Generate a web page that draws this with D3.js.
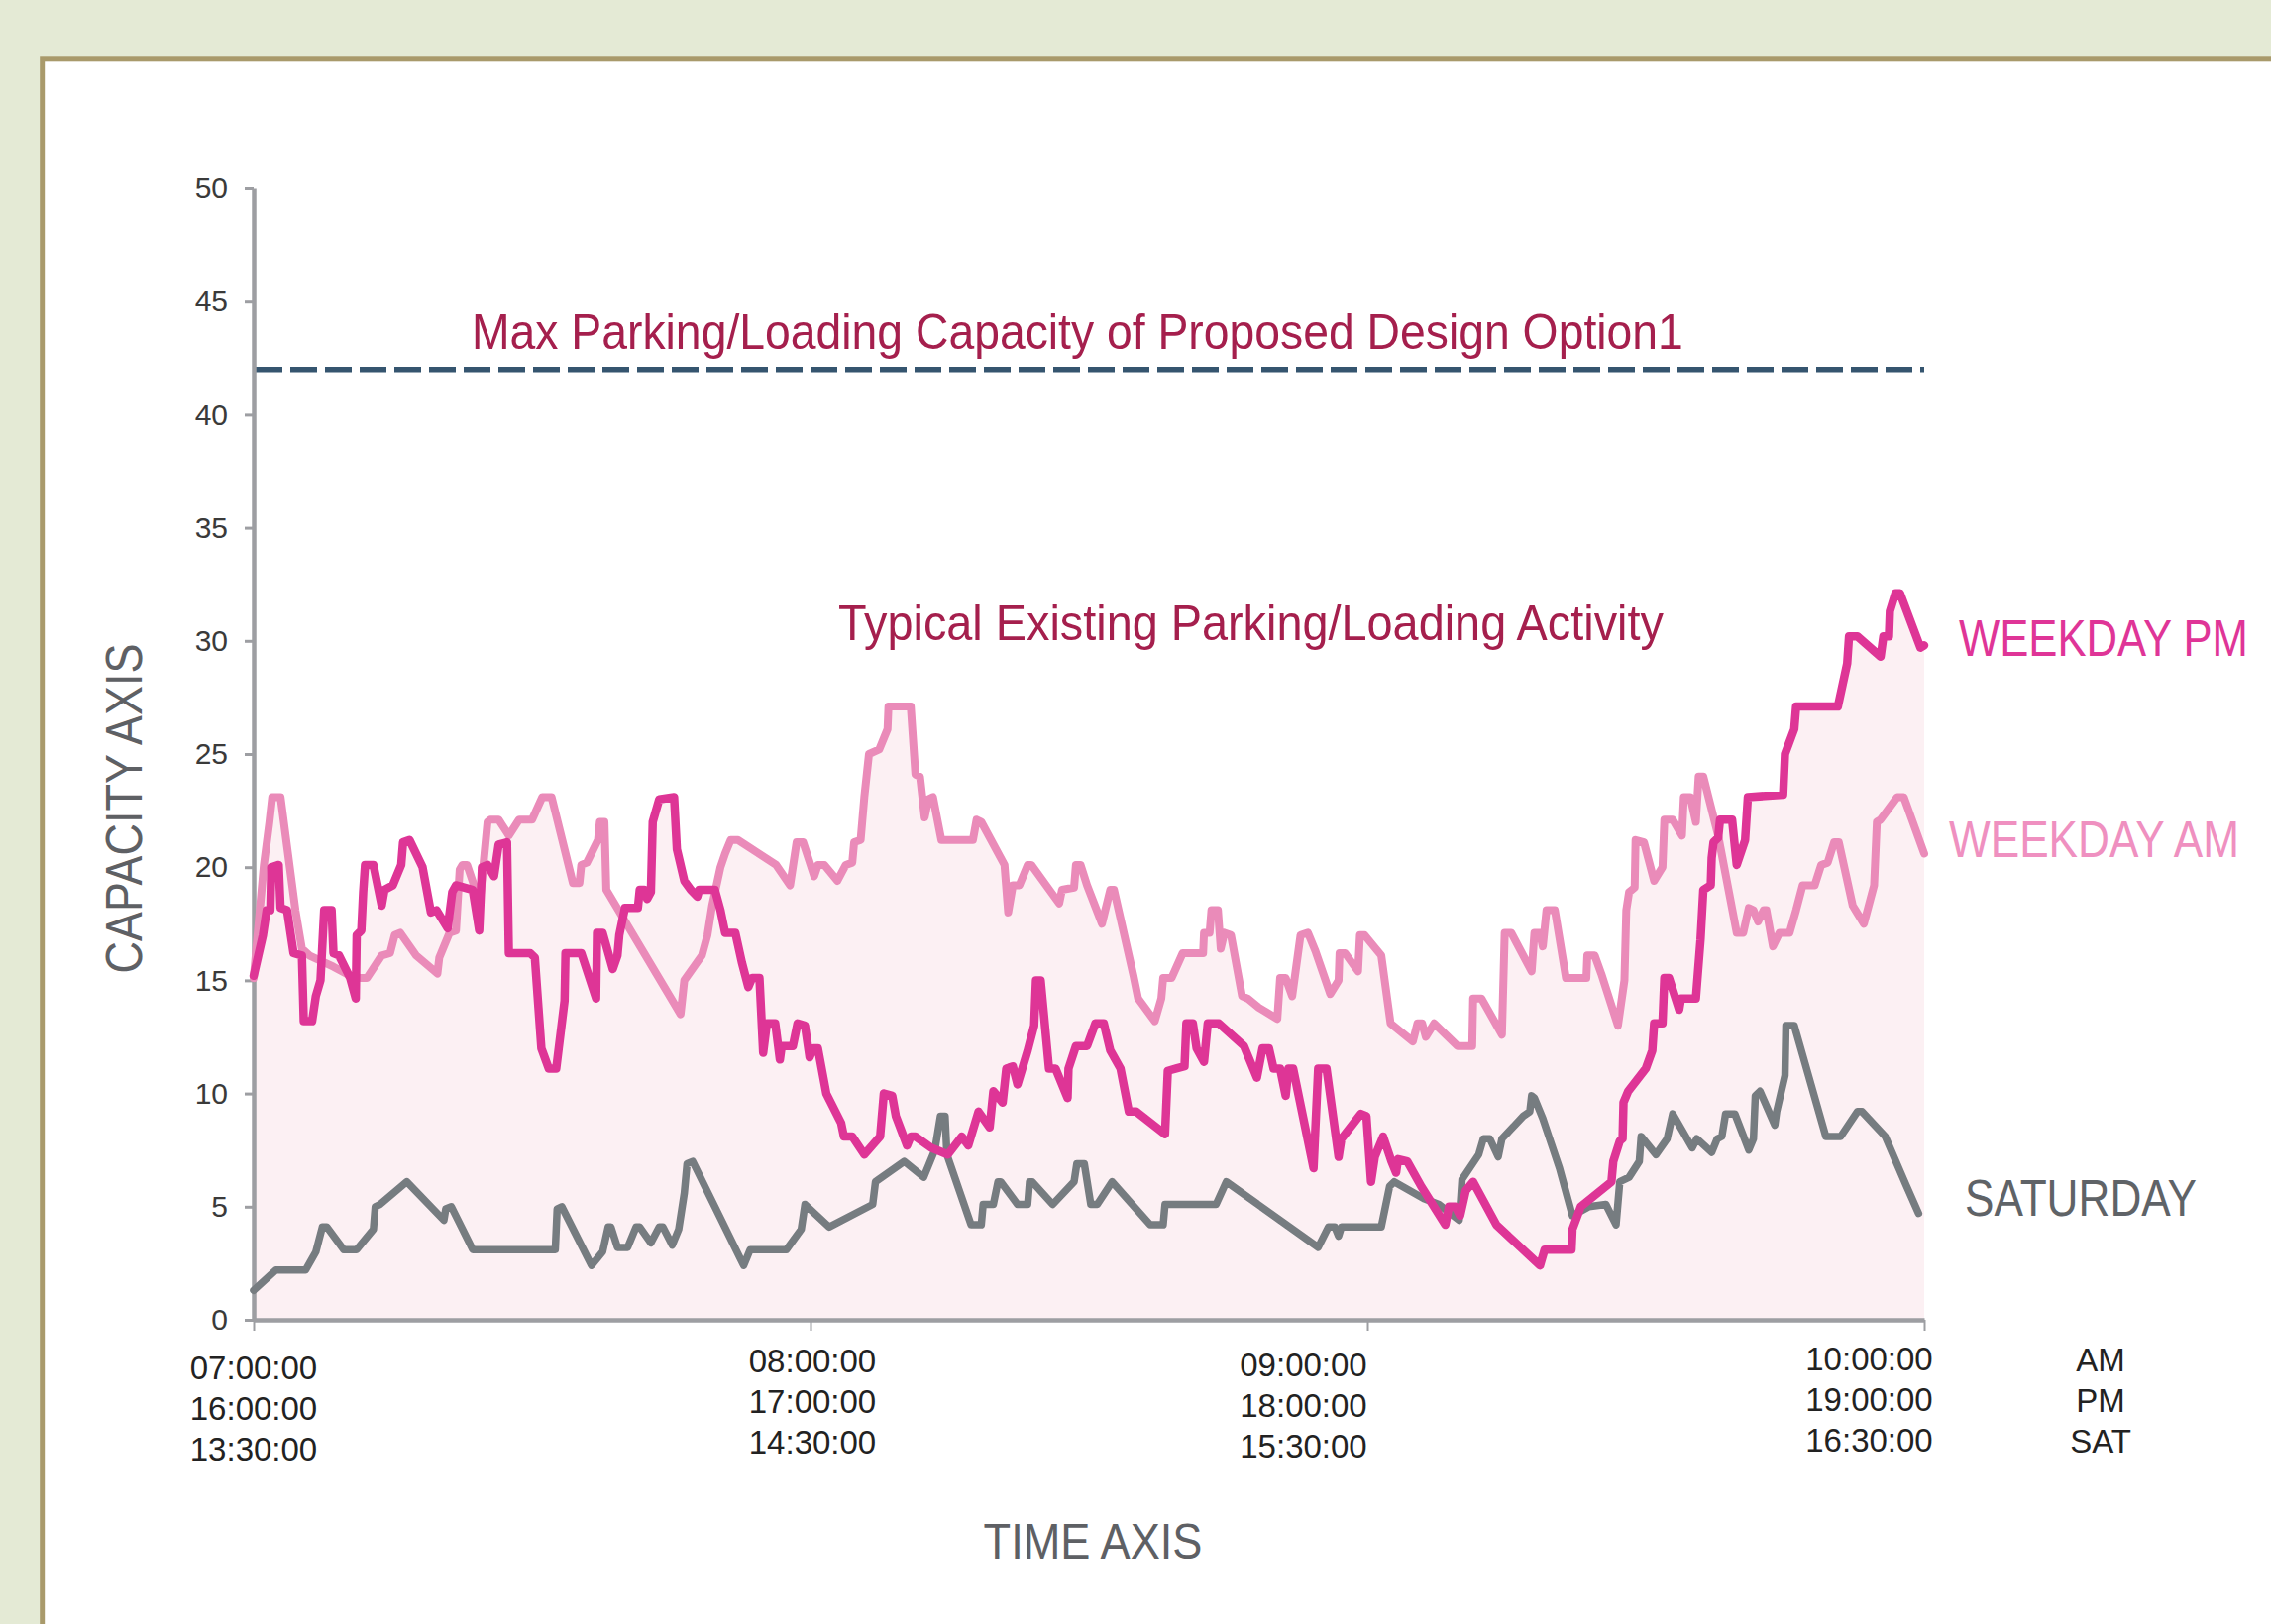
<!DOCTYPE html>
<html>
<head>
<meta charset="utf-8">
<script src="https://cdn.jsdelivr.net/npm/d3@7"></script>
<style>
  html, body { margin: 0; padding: 0; background: #e4ead5; }
  svg { display: block; }
</style>
</head>
<body>
<div id="chart"></div>
<script>
// [minutes after window start, vehicles]
const weekdayPm = [
  [0,15.2],[1.0,17.0],[1.4,18.1],[1.8,18.1],[1.9,20.0],[2.7,20.1],[2.9,18.2],[3.6,18.1],[4.3,16.2],[5.2,16.1],
  [5.4,13.2],[6.3,13.2],[6.7,14.3],[7.2,15.0],[7.6,18.1],[8.4,18.1],[8.6,16.2],[9.2,16.1],[10.4,15.1],[11.0,14.2],
  [11.1,17.0],[11.6,17.2],[11.8,18.9],[12.0,20.1],[12.9,20.1],[13.8,18.3],[14.1,19.0],[15.0,19.2],[15.9,20.1],[16.1,21.1],
  [16.8,21.2],[18.2,20.0],[19.1,18.0],[19.7,18.1],[20.9,17.3],[21.4,18.9],[21.8,19.2],[23.6,19.0],[24.3,17.2],[24.6,20.0],
  [25.2,20.1],[25.9,19.6],[26.4,21.0],[27.3,21.1],[27.5,16.2],[29.8,16.2],[30.3,16.0],[31.0,12.0],[31.8,11.1],[32.6,11.1],
  [33.5,14.1],[33.6,16.2],[35.3,16.2],[36.9,14.2],[37.0,17.1],[37.6,17.1],[38.7,15.5],[39.2,16.1],[39.4,17.0],[40.0,18.2],
  [41.4,18.2],[41.6,19.0],[42.1,19.0],[42.4,18.6],[42.8,18.9],[43.0,22.0],[43.7,23.0],[45.3,23.1],[45.6,20.8],[46.4,19.4],
  [47.1,19.0],[47.8,18.7],[48.0,19.0],[49.7,19.0],[50.3,18.1],[50.8,17.1],[51.9,17.1],[52.6,15.8],[53.3,14.7],[53.7,15.1],
  [54.5,15.1],[54.9,11.8],[55.3,13.1],[56.2,13.1],[56.7,11.5],[56.9,12.1],[58.1,12.1],[58.6,13.1],[59.4,13.0],[59.9,11.6],
  [60.3,12.0],[60.8,12.0],[61.7,10.0],[63.3,8.7],[63.6,8.1],[64.5,8.1],[65.8,7.3],[67.5,8.1],[67.9,10.0],[68.8,9.9],
  [69.2,9.0],[70.4,7.7],[70.8,8.1],[71.3,8.1],[73.0,7.6],[74.8,7.3],[76.3,8.1],[77.0,7.7],[78.1,9.2],[79.3,8.5],
  [79.7,10.1],[80.7,9.6],[81.1,11.1],[81.8,11.2],[82.3,10.4],[83.4,11.9],[84.1,13.0],[84.3,15.0],[84.8,15.0],[85.7,11.1],
  [86.4,11.1],[87.7,9.8],[87.8,11.1],[88.6,12.1],[89.8,12.1],[90.7,13.1],[91.6,13.1],[92.3,11.9],[93.4,11.1],[94.3,9.2],
  [95.1,9.2],[98.2,8.2],[98.5,11.0],[99.4,11.1],[100.3,11.2],[100.5,13.1],[101.2,13.1],[101.6,12.0],[102.4,11.4],[102.8,13.1],
  [104.0,13.1],[106.7,12.1],[108.1,10.7],[108.7,12.0],[109.4,12.0],[109.9,11.1],[110.6,11.1],[111.2,9.9],[111.5,11.1],[112.0,11.1],
  [114.2,6.7],[114.7,11.1],[115.6,11.1],[116.9,7.2],[117.2,8.0],[119.3,9.1],[119.9,9.0],[120.4,6.1],[120.8,7.2],[121.7,8.1],
  [122.6,7.0],[123.1,6.5],[123.3,7.1],[124.3,7.0],[125.8,5.9],[128.4,4.2],[128.8,5.0],[129.5,5.0],[130.0,4.6],[130.6,5.7],
  [131.4,6.1],[133.9,4.2],[138.6,2.4],[139.1,3.1],[142.0,3.1],[142.1,4.0],[143.0,5.0],[146.3,6.1],[146.5,7.0],[147.2,7.9],
  [147.5,8.0],[147.6,9.6],[148.1,10.1],[150.0,11.1],[150.7,11.9],[150.9,13.1],[151.8,13.1],[152.0,15.1],[152.5,15.1],[153.6,13.7],
  [153.8,14.2],[155.4,14.2],[155.9,16.8],[156.2,19.0],[157.0,19.2],[157.1,20.4],[157.3,21.1],[157.8,21.3],[158.0,22.1],[159.3,22.1],
  [159.8,20.1],[160.7,21.2],[161.0,23.1],[164.8,23.2],[165.0,25.0],[166.0,26.1],[166.2,27.1],[170.7,27.1],[171.7,29.0],[171.9,30.2],
  [172.8,30.2],[175.3,29.3],[175.6,30.2],[176.2,30.2],[176.3,31.3],[176.9,32.1],[177.4,32.1],[179.6,29.7],[180,29.8]
];

const weekdayAm = [
  [0,15.1],[1.1,20.1],[1.7,22.0],[2.0,23.1],[2.9,23.1],[4.5,18.1],[5.2,16.4],[6.0,16.1],[8.6,15.6],[10.4,15.2],
  [11.6,15.1],[12.2,15.1],[13.8,16.1],[14.7,16.2],[15.2,17.0],[15.8,17.1],[17.5,16.1],[19.8,15.3],[20.0,16.0],[21.1,17.1],
  [21.8,17.2],[22.2,19.9],[22.5,20.1],[23.0,20.1],[23.9,19.0],[24.4,18.6],[25.2,22.0],[25.5,22.1],[26.4,22.1],[27.5,21.4],
  [28.6,22.1],[30.0,22.1],[31.1,23.1],[32.1,23.1],[34.4,19.3],[35.1,19.3],[35.3,20.1],[35.9,20.2],[37.1,21.2],[37.3,22.0],
  [37.8,22.0],[38.0,19.0],[46.0,13.5],[46.4,15.0],[48.3,16.1],[48.9,17.0],[49.4,18.3],[50.3,20.0],[50.8,20.6],[51.4,21.2],
  [52.2,21.2],[56.3,20.1],[57.8,19.2],[58.5,21.1],[59.2,21.1],[60.4,19.6],[60.8,20.1],[61.5,20.1],[62.9,19.4],[63.8,20.1],
  [64.5,20.2],[64.7,21.1],[65.4,21.2],[65.8,23.1],[66.3,25.0],[67.4,25.2],[68.3,26.1],[68.4,27.1],[70.8,27.1],[71.3,24.1],
  [71.8,24.0],[72.3,22.2],[72.7,23.0],[73.2,23.1],[74.1,21.2],[77.5,21.2],[77.9,22.1],[78.4,22.0],[80.9,20.1],[81.3,18.0],
  [81.8,19.2],[82.5,19.2],[83.4,20.1],[83.8,20.1],[86.8,18.4],[87.1,19.0],[88.4,19.1],[88.6,20.1],[89.1,20.1],[89.8,19.2],
  [91.4,17.5],[92.3,19.0],[92.7,19.0],[94.8,15.2],[95.3,14.2],[97.1,13.2],[97.8,14.2],[98.0,15.1],[98.9,15.1],[100.1,16.2],
  [102.3,16.2],[102.4,17.1],[103.0,17.1],[103.2,18.1],[103.9,18.1],[104.2,16.4],[104.6,17.1],[105.3,17.0],[106.5,14.3],[107.1,14.2],
  [108.3,13.8],[110.3,13.3],[110.6,15.1],[111.2,15.1],[111.9,14.3],[112.8,17.0],[113.6,17.1],[114.4,16.3],[116.0,14.4],[116.9,15.0],
  [117.0,16.2],[117.6,16.2],[119.0,15.4],[119.2,17.0],[119.7,17.0],[121.5,16.1],[122.5,13.1],[124.9,12.3],[125.4,13.1],[125.9,13.1],
  [126.3,12.5],[127.2,13.1],[129.7,12.1],[131.3,12.1],[131.4,14.2],[132.3,14.2],[134.5,12.6],[134.8,17.1],[135.5,17.1],[137.7,15.4],
  [138.0,17.1],[138.6,17.1],[138.9,16.5],[139.3,18.1],[140.2,18.1],[141.4,15.1],[143.6,15.1],[143.7,16.1],[144.5,16.1],[145.2,15.3],
  [147.0,13.0],[147.7,15.0],[147.9,18.1],[148.2,18.9],[148.8,19.1],[148.9,21.2],[149.8,21.1],[150.9,19.4],[151.8,20.0],[152.0,22.1],
  [152.9,22.1],[153.9,21.4],[154.1,23.1],[154.8,23.1],[155.4,22.0],[155.7,24.0],[156.2,24.0],[157.8,21.4],[159.8,17.1],[160.5,17.1],
  [161.1,18.2],[161.6,18.1],[162.1,17.6],[162.7,18.1],[163.0,18.1],[163.7,16.5],[164.4,17.1],[165.5,17.1],[166.2,18.1],[166.9,19.2],
  [168.2,19.2],[168.9,20.1],[169.6,20.2],[170.3,21.1],[170.8,21.1],[172.3,18.3],[172.6,18.1],[173.5,17.5],[174.6,19.2],[174.9,22.0],
  [175.3,22.1],[177.1,23.1],[177.8,23.1],[180,20.6]
];

const saturday = [
  [0,1.3],[2.4,2.2],[5.6,2.2],[6.7,3.0],[7.4,4.1],[7.9,4.1],[9.7,3.1],[11.1,3.1],[12.9,4.0],[13.1,5.0],
  [13.6,5.1],[16.5,6.1],[20.5,4.4],[20.7,4.9],[21.3,5.0],[23.6,3.1],[32.5,3.1],[32.7,4.9],[33.2,5.0],[36.4,2.4],
  [37.6,3.0],[38.2,4.1],[38.5,4.1],[39.2,3.2],[40.3,3.2],[41.2,4.1],[41.6,4.1],[42.8,3.4],[43.7,4.1],[44.1,4.1],
  [45.1,3.3],[45.8,4.0],[46.4,5.6],[46.7,6.9],[47.3,7.0],[52.8,2.4],[53.5,3.1],[57.4,3.1],[59.0,4.0],[59.4,5.1],
  [62.0,4.1],[66.7,5.1],[67.0,6.1],[70.1,7.0],[72.2,6.3],[73.4,7.5],[74.0,9.0],[74.5,9.0],[74.7,7.3],[77.3,4.2],
  [78.4,4.2],[78.6,5.1],[79.7,5.1],[80.2,6.1],[80.5,6.1],[82.3,5.1],[83.4,5.1],[83.6,6.1],[83.9,6.1],[86.1,5.1],
  [88.4,6.1],[88.7,6.9],[89.5,6.9],[90.2,5.1],[90.9,5.1],[92.5,6.1],[96.6,4.2],[98.0,4.2],[98.2,5.1],[103.7,5.1],
  [104.8,6.1],[114.7,3.2],[115.8,4.1],[116.5,4.1],[116.9,3.7],[117.2,4.1],[121.5,4.1],[122.4,5.9],[122.9,6.1],[126.1,5.35],
  [127.7,5.1],[129.9,4.4],[130.2,6.2],[132.0,7.3],[132.5,8.0],[133.2,8.0],[134.1,7.2],[134.5,8.0],[136.8,9.0],[137.5,9.2],
  [137.7,9.9],[138.0,9.8],[138.9,8.9],[139.8,7.8],[140.7,6.7],[142.1,4.6],[143.9,5.0],[145.7,5.1],[146.8,4.2],[147.2,6.1],
  [148.2,6.3],[149.3,7.0],[149.5,8.1],[151.1,7.3],[152.3,8.0],[152.9,9.1],[155.0,7.6],[155.5,8.0],[157.1,7.4],[157.7,8.0],
  [158.2,8.1],[158.6,9.1],[159.6,9.1],[161.1,7.5],[161.6,8.0],[161.8,9.9],[162.3,10.1],[163.9,8.6],[164.1,9.2],[165.0,10.8],
  [165.1,13.0],[166.0,13.0],[169.4,8.1],[171.0,8.1],[172.8,9.2],[173.3,9.2],[175.8,8.1],[178.0,6.0],[179.4,4.7]
];

const capacityLimit = 42;
const valueTicks = [0, 5, 10, 15, 20, 25, 30, 35, 40, 45, 50];
const timeTicks = [0, 60, 120, 180];
const amTimes = ['07:00:00', '08:00:00', '09:00:00', '10:00:00'];
const pmTimes = ['16:00:00', '17:00:00', '18:00:00', '19:00:00'];
const satTimes = ['13:30:00', '14:30:00', '15:30:00', '16:30:00'];
const periodNames = ['AM', 'PM', 'SAT'];

const W = 2292, H = 1639;
const sansFont = '"Liberation Sans", Arial, Helvetica, sans-serif';
const narrowFont = '"Liberation Sans Narrow", "Arial Narrow", "Liberation Sans", Arial, sans-serif';
const axisGrey = '#9d9ea2';
const annotationRed = '#a51f4d';

const x = d3.scaleLinear().domain([0, 180]).range([256, 1942]);
const y = d3.scaleLinear().domain([0, 50]).range([1332, 190]);

const svg = d3.select('#chart').append('svg')
  .attr('width', W).attr('height', H)
  .attr('viewBox', `0 0 ${W} ${H}`);

svg.append('rect').attr('width', W).attr('height', H).attr('fill', '#e4ead5');

// white panel with khaki border, running off the right and bottom edges
svg.append('rect')
  .attr('x', 42.7).attr('y', 59.8)
  .attr('width', W).attr('height', H)
  .attr('fill', '#ffffff')
  .attr('stroke', '#a99a6b')
  .attr('stroke-width', 5);

// light pink wash under both weekday series
const area = d3.area().x(d => x(d[0])).y0(y(0)).y1(d => y(d[1]));
[weekdayAm, weekdayPm].forEach(series => {
  svg.append('path').datum(series).attr('d', area).attr('fill', '#fcf0f3');
});

// capacity line
svg.append('line')
  .attr('x1', x(0) + 2).attr('x2', x(180))
  .attr('y1', y(capacityLimit)).attr('y2', y(capacityLimit))
  .attr('stroke', '#35556f')
  .attr('stroke-width', 5.5)
  .attr('stroke-dasharray', '27 8');

// axes
const yAxis = d3.axisLeft(y).tickValues(valueTicks).tickSize(9).tickSizeOuter(0).tickPadding(17);
svg.append('g')
  .attr('transform', `translate(${x(0)},0)`)
  .call(yAxis)
  .call(g => g.select('.domain').attr('stroke', axisGrey).attr('stroke-width', 4.5))
  .call(g => g.selectAll('.tick line').attr('stroke', axisGrey).attr('stroke-width', 3))
  .call(g => g.selectAll('.tick text')
    .attr('font-family', sansFont)
    .attr('font-size', 30)
    .attr('fill', '#3a3a3a'));

const xAxis = d3.axisBottom(x).tickValues(timeTicks).tickSize(11).tickSizeOuter(0).tickFormat('');
svg.append('g')
  .attr('transform', `translate(0,${y(0)})`)
  .call(xAxis)
  .call(g => g.select('.domain').attr('stroke', axisGrey).attr('stroke-width', 4.5))
  .call(g => g.selectAll('.tick line').attr('stroke', axisGrey).attr('stroke-width', 2));

// three-row time labels, hand-nudged like the original layout
const labelNudge = [[0, 60], [2, 53], [-64.5, 57], [-55.5, 51]];
const rowGap = 40.8;
const timeRows = [amTimes, pmTimes, satTimes];
timeTicks.forEach((t, i) => {
  timeRows.forEach((row, r) => {
    svg.append('text')
      .attr('x', x(t) + labelNudge[i][0])
      .attr('y', y(0) + labelNudge[i][1] + r * rowGap)
      .attr('text-anchor', 'middle')
      .attr('font-family', sansFont)
      .attr('font-size', 33)
      .attr('fill', '#222')
      .text(row[i]);
  });
});
periodNames.forEach((name, r) => {
  svg.append('text')
    .attr('x', x(180) + 178)
    .attr('y', y(0) + 52 + r * rowGap)
    .attr('text-anchor', 'middle')
    .attr('font-family', sansFont)
    .attr('font-size', 33)
    .attr('fill', '#222')
    .text(name);
});

// series lines
const line = d3.line().x(d => x(d[0])).y(d => y(d[1]));
const seriesStyles = [
  { data: weekdayAm, color: '#ea8bb9', width: 8 },
  { data: saturday, color: '#767c80', width: 7.5 },
  { data: weekdayPm, color: '#de3596', width: 8.5 }
];
seriesStyles.forEach(s => {
  svg.append('path')
    .datum(s.data)
    .attr('d', line)
    .attr('fill', 'none')
    .attr('stroke', s.color)
    .attr('stroke-width', s.width)
    .attr('stroke-linejoin', 'round')
    .attr('stroke-linecap', 'round');
});

// Text squeezed horizontally to the reference width; a transform keeps the real box honest.
function label(txt, px, py, size, width, color, family, anchor = 'start', rotate = 0) {
  const g = svg.append('g').attr('transform', `translate(${px},${py}) rotate(${rotate})`);
  const t = g.append('text')
    .attr('text-anchor', anchor)
    .attr('font-family', family)
    .attr('font-size', size)
    .attr('fill', color)
    .text(txt);
  const natural = t.node().getComputedTextLength();
  if (natural > 0) t.attr('transform', `scale(${width / natural},1)`);
  return t;
}

label('Max Parking/Loading Capacity of Proposed Design Option1', 476, 352, 50, 1223, annotationRed, sansFont);
label('Typical Existing Parking/Loading Activity', 846, 646, 50, 833, annotationRed, sansFont);

label('WEEKDAY PM', 1977, 662, 52, 292, '#df3597', narrowFont);
label('WEEKDAY AM', 1967, 865, 51, 293, '#ef90c0', narrowFont);
label('SATURDAY', 1983, 1227, 51, 234, '#5f6367', narrowFont);

label('TIME AXIS', 1103, 1573, 50, 221, '#5e6064', narrowFont, 'middle');
label('CAPACITY AXIS', 143, 816, 51, 333, '#5e6064', narrowFont, 'middle', -90);
</script>
</body>
</html>
